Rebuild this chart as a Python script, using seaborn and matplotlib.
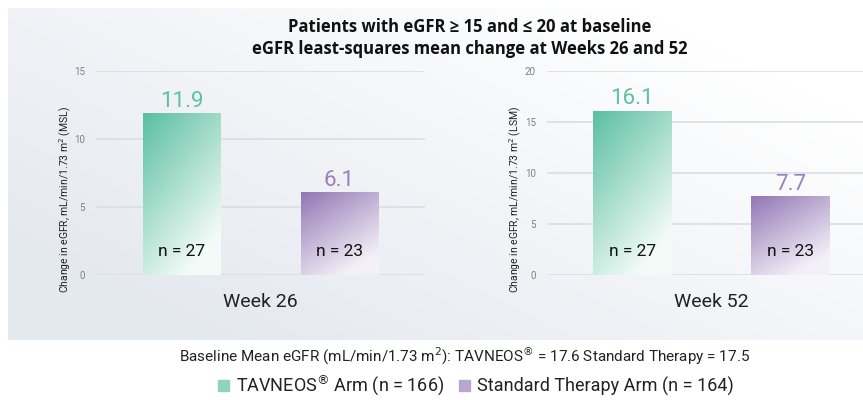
# eGFR LSM change, two panels (Week 26 / Week 52), gradient bars
import numpy as np
import pandas as pd
import seaborn as sns
import matplotlib.pyplot as plt
from matplotlib.colors import to_rgb
from matplotlib.patches import Rectangle
from matplotlib.transforms import blended_transform_factory

weeks = ["Week 26", "Week 52"]
arms = ["TAVNEOS", "Standard"]
values_w26 = [11.9, 6.1]
values_w52 = [16.1, 7.7]
n_labels = ["n = 27", "n = 23"]
ymax = [15, 20]
yticks = [[0, 5, 10, 15], [0, 5, 10, 15, 20]]
ylabels = ["Change in eGFR, mL/min/1.73 m$^2$ (MSL)",
           "Change in eGFR, mL/min/1.73 m$^2$ (LSM)"]
legend_labels = ["TAVNEOS$^{\u00ae}$ Arm (n = 166)", "Standard Therapy Arm (n = 164)"]
title = ("Patients with eGFR \u2265 15 and \u2264 20 at baseline\n"
         "eGFR least-squares mean change at Weeks 26 and 52")
footer = ("Baseline Mean eGFR (mL/min/1.73 m$^2$): TAVNEOS$^{\u00ae}$ = 17.6 "
          "Standard Therapy = 17.5")

green_dark, green_light = "#5bbf9f", "#f3fbf8"
purple_dark, purple_light = "#9277b4", "#f4f0f8"
palette = {"TAVNEOS": green_dark, "Standard": purple_dark}
label_colors = {"TAVNEOS": "#5cc29f", "Standard": "#9a7fbd"}

sns.set_style("white")
plt.rcParams['font.family'] = ['Roboto', 'DejaVu Sans']

fig = plt.figure(figsize=(8.63, 4.0), dpi=100)

# background panel with soft gradient
bg = fig.add_axes([8 / 863, 0.15, 1 - 8 / 863, 0.83], zorder=-10)
gx, gy = np.meshgrid(np.linspace(0, 1, 200), np.linspace(0, 1, 100))
t = np.clip(0.75 * gx + 0.6 * gy - 0.15, 0, 1)  # gy=0 is bottom (origin lower)
c0 = np.array(to_rgb("#e4e8ef"))
c1 = np.array([1.0, 1.0, 1.0])
img = c0[None, None, :] * (1 - t[..., None]) + c1[None, None, :] * t[..., None]
bg.imshow(img, origin="lower", aspect="auto", extent=[0, 1, 0, 1])
bg.set_axis_off()


def gradient_fill(ax, patch, dark, light):
    x0, y0 = patch.get_x(), patch.get_y()
    w, h = patch.get_width(), patch.get_height()
    u, v = np.meshgrid(np.linspace(0, 1, 60), np.linspace(0, 1, 120))
    # v=0 top row; darkest at top-left, lightest at bottom-right
    s = np.clip(0.45 * u + 0.75 * v, 0, 1)
    d, l = np.array(to_rgb(dark)), np.array(to_rgb(light))
    arr = d[None, None, :] * (1 - s[..., None]) + l[None, None, :] * s[..., None]
    im = ax.imshow(arr, extent=[x0, x0 + w, y0, y0 + h], aspect="auto",
                   zorder=2, origin="upper")
    clip = Rectangle((x0, y0), w, h, transform=ax.transData)
    im.set_clip_path(clip)
    patch.set_alpha(0)


positions = [[96 / 863, 1 - 275 / 400, 329 / 863, 204 / 400],
             [547 / 863, 1 - 275 / 400, 316 / 863, 204 / 400]]
xlims = [(-0.546, 1.543), (-0.54, 1.46)]
ylabel_x = [-0.07, -0.076]

for i, (week, vals) in enumerate(zip(weeks, [values_w26, values_w52])):
    ax = fig.add_axes(positions[i])
    df = pd.DataFrame({"arm": arms, "value": vals})
    sns.barplot(data=df, x="arm", y="value", hue="arm", palette=palette,
                width=0.495, legend=False, ax=ax, zorder=2)
    ax.set_facecolor("none")
    ax.set_ylim(0, ymax[i])
    ax.set_xlim(*xlims[i])
    ax.set_yticks(yticks[i])
    ax.tick_params(axis="y", labelsize=7, colors="#808080", length=0, pad=8)
    ax.tick_params(axis="x", length=0, labelbottom=False)
    ax.yaxis.grid(True, color="#dcdde2", lw=1.2)
    ax.set_axisbelow(True)
    for sp in ax.spines.values():
        sp.set_visible(False)
    ax.set_xlabel("")
    ax.set_ylabel(ylabels[i], fontsize=7.5, color="#222222")
    ax.yaxis.set_label_coords(ylabel_x[i], 0.37)

    for patch, arm, val, nl in zip(ax.patches, arms, vals, n_labels):
        dark = green_dark if arm == "TAVNEOS" else purple_dark
        light = green_light if arm == "TAVNEOS" else purple_light
        gradient_fill(ax, patch, dark, light)
        cx = patch.get_x() + patch.get_width() / 2
        ax.annotate(f"{val:.1f}", (cx, val), xytext=(0, 1),
                    textcoords="offset points", ha="center", va="bottom",
                    fontsize=16, color=label_colors[arm])
        ax.annotate(nl, (cx, 0), xytext=(0, 17), textcoords="offset points",
                    ha="center", va="center", fontsize=12.5, color="#111111",
                    zorder=5)

    tr = blended_transform_factory(ax.transData, ax.transAxes)
    ax.text(0.5, -0.13, week, transform=tr, ha="center", va="center",
            fontsize=14, color="#222222")

fig.text(470 / 863, 1 - 38 / 400, title, ha="center", va="center",
         fontsize=12, fontweight="bold", color="#111111", linespacing=1.3,
         family=["Open Sans", "DejaVu Sans"])
fig.text(465 / 863, 1 - 356 / 400, footer, ha="center", va="center",
         fontsize=11, color="#222222")

handles = [Rectangle((0, 0), 1, 1, color="#8fd3bb"),
           Rectangle((0, 0), 1, 1, color="#b8a6d0")]
fig.legend(handles, legend_labels, loc="center", ncol=2,
           bbox_to_anchor=(476 / 863, 1 - 386 / 400), frameon=False,
           fontsize=13, handlelength=0.6, handleheight=0.6,
           handletextpad=0.4, columnspacing=0.8, labelcolor="#222222",
           borderpad=0.1)

fig.savefig("out.png", dpi=100)
